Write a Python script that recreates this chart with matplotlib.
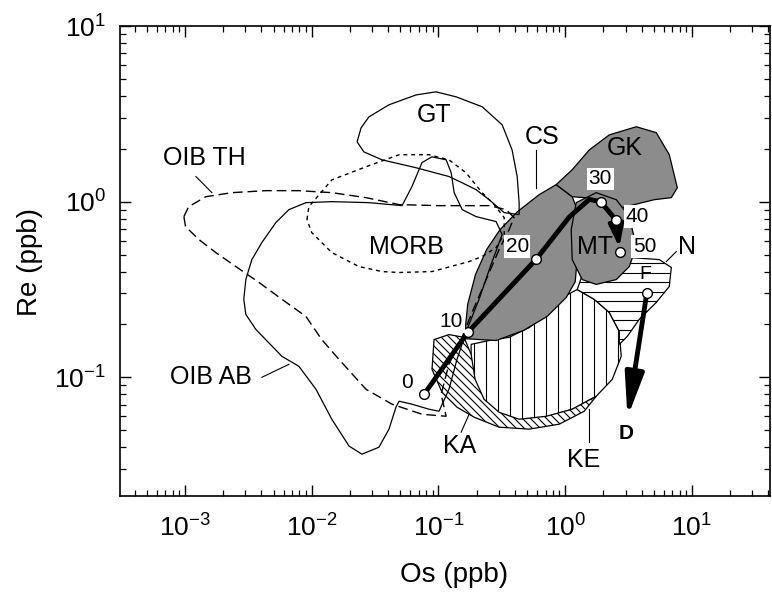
import matplotlib.pyplot as plt
import numpy as np
from matplotlib.patches import Polygon
from matplotlib.collections import LineCollection

plt.rcParams['font.family'] = ['Liberation Sans', 'DejaVu Sans']
plt.rcParams['mathtext.fontset'] = 'custom'
plt.rcParams['mathtext.rm'] = 'Liberation Sans'
plt.rcParams['axes.unicode_minus'] = False

# ---- field outlines (Os ppb, Re ppb) ----
oib_th_os = [0.00098, 0.00107, 0.00146, 0.00234, 0.00435, 0.00792, 0.0144, 0.0268, 0.0489, 0.101,
             0.251, 0.342, 0.395, 0.361, 0.301, 0.238, 0.184, 0.151, 0.121, 0.105, 0.115, 0.0742,
             0.0430, 0.0268, 0.0164, 0.0120, 0.0090, 0.00582, 0.00383, 0.00252, 0.00175, 0.00129, 0.00101]
oib_th_re = [0.822, 0.937, 1.067, 1.125, 1.155, 1.155, 1.125, 1.054, 0.962, 0.949,
             0.949, 0.901, 0.811, 0.693, 0.534, 0.360, 0.234, 0.164, 0.119, 0.080, 0.060, 0.0616,
             0.0703, 0.0855, 0.1265, 0.164, 0.222, 0.278, 0.347, 0.427, 0.513, 0.608, 0.721]

oib_ab_os = [0.00291, 0.00302, 0.00337, 0.00404, 0.00521, 0.00661, 0.0090, 0.0144, 0.0283, 0.0516,
             0.0618, 0.0742, 0.0889, 0.115, 0.126, 0.133, 0.154, 0.198, 0.285, 0.318, 0.260, 0.209,
             0.168, 0.140, 0.121, 0.101, 0.0843, 0.0618, 0.0489, 0.0462, 0.0407, 0.0339, 0.0249,
             0.0197, 0.0144, 0.0108, 0.00792, 0.00582, 0.00362, 0.00302]
oib_ab_re = [0.278, 0.360, 0.468, 0.585, 0.760, 0.901, 0.987, 1.0, 0.987, 0.949,
             1.22, 1.67, 1.80, 1.73, 1.46, 1.125, 0.901, 0.822, 0.770, 0.649, 0.439, 0.278,
             0.1875, 0.1265, 0.0855, 0.0641, 0.0658, 0.0703, 0.0731, 0.0676, 0.0507, 0.0400, 0.0365,
             0.0406, 0.0577, 0.0855, 0.1155, 0.1316, 0.1875, 0.228]

morb_os = [0.00917, 0.0095, 0.0144, 0.0268, 0.0489, 0.0843, 0.121, 0.165, 0.221, 0.275, 0.330,
           0.330, 0.285, 0.221, 0.1745, 0.0889, 0.0489, 0.0359, 0.0236, 0.0144, 0.0100]
morb_re = [0.791, 0.937, 1.33, 1.58, 1.85, 1.85, 1.73, 1.46, 1.125, 0.962, 0.811,
           0.649, 0.548, 0.487, 0.456, 0.400, 0.395, 0.400, 0.427, 0.513, 0.667]

gt_os = [0.0228, 0.0245, 0.0283, 0.0407, 0.0665, 0.0957, 0.138, 0.221, 0.318, 0.381, 0.418,
         0.433, 0.433, 0.330, 0.251, 0.198, 0.154, 0.121, 0.0665, 0.0359, 0.0258]
gt_re = [2.19, 2.63, 3.04, 3.56, 4.05, 4.22, 3.95, 3.47, 2.74, 1.97, 1.39,
         0.987, 0.844, 0.866, 1.026, 1.17, 1.28, 1.39, 1.56, 1.73, 1.92]

cs_os = [0.160, 0.170, 0.196, 0.240, 0.306, 0.420, 0.623, 0.849, 1.136, 1.29, 1.26, 1.20,
         1.02, 0.72, 0.47, 0.285]
cs_re = [0.166, 0.260, 0.385, 0.534, 0.693, 0.877, 1.096, 1.25, 1.067, 0.844, 0.534, 0.350,
         0.285, 0.222, 0.185, 0.162]

gk_os = [0.849, 1.136, 1.548, 2.228, 3.638, 5.234, 6.627, 7.67, 6.876, 5.047, 3.508, 2.438,
         1.856, 1.413, 1.136]
gk_re = [1.25, 1.52, 1.97, 2.40, 2.67, 2.47, 1.85, 1.20, 1.054, 1.026, 0.962, 0.901,
         1.026, 1.054, 1.067]

mt_os = [1.222, 1.757, 2.529, 3.204, 3.638, 3.204, 2.529, 1.757, 1.363, 1.136, 1.115]
mt_re = [0.987, 1.125, 1.026, 0.822, 0.555, 0.427, 0.360, 0.338, 0.360, 0.468, 0.693]

ke_os = [0.191, 0.181, 0.181, 0.251, 0.361, 0.520, 0.748, 0.982, 1.244, 1.694, 2.228, 2.671,
         2.768, 2.351, 1.757, 1.136, 0.708, 0.433, 0.285]
ke_re = [0.0658, 0.0974, 0.154, 0.162, 0.169, 0.192, 0.237, 0.289, 0.316, 0.278, 0.234, 0.1825,
         0.1316, 0.0974, 0.0780, 0.0658, 0.0593, 0.0562, 0.0577]

n_os = [1.244, 1.413, 1.856, 3.204, 5.524, 6.876, 6.627, 5.234, 3.844, 3.090, 2.671, 2.671,
        2.228, 1.694]
n_re = [0.316, 0.411, 0.450, 0.481, 0.468, 0.422, 0.329, 0.267, 0.214, 0.171, 0.154, 0.1825,
        0.234, 0.278]

ka_os = [0.0923, 0.121, 0.159, 0.181, 0.1945, 0.229, 0.301, 0.433, 0.708, 1.136, 1.757, 1.413,
         0.897, 0.520, 0.301, 0.191, 0.140, 0.1067, 0.0889]
ka_re = [0.164, 0.175, 0.169, 0.135, 0.0974, 0.0750, 0.0632, 0.0577, 0.0600, 0.0658, 0.0780, 0.0641,
         0.0541, 0.0507, 0.0520, 0.0593, 0.0676, 0.0822, 0.111]

# ---- melting trend ----
path_os = [0.077, 0.17, 0.59, 1.08, 1.55, 1.9, 2.5]
path_re = [0.080, 0.18, 0.47, 0.82, 1.03, 1.0, 0.79]
step_labels = ['0', '10', '20', '30', '40', '50']
step_os = [0.077, 0.17, 0.59, 1.9, 2.5, 2.7]
step_re = [0.080, 0.18, 0.47, 1.0, 0.79, 0.52]
step_lab_os = [0.0565, 0.126, 0.418, 1.89, 3.70, 4.25]
step_lab_re = [0.0937, 0.208, 0.555, 1.35, 0.822, 0.555]

f_point = (4.4, 0.30)
d_point = (3.1, 0.059)

# ---- field names ----
names = ['GT', 'CS', 'GK', 'OIB TH', 'MORB', 'MT', 'N', 'OIB AB', 'KA', 'KE']
name_os = [0.0923, 0.658, 2.93, 0.00141, 0.056, 1.72, 9.2, 0.0016, 0.146, 1.41]
name_re = [3.12, 2.34, 2.03, 1.78, 0.555, 0.555, 0.555, 0.100, 0.0406, 0.0338]

# leader lines: (os0, re0, os1, re1)
leaders = [(0.00122, 1.39, 0.00163, 1.125),
           (0.00404, 0.100, 0.00661, 0.1186),
           (0.590, 1.97, 0.590, 1.20),
           (0.151, 0.0487, 0.1745, 0.0616),
           (1.548, 0.0428, 1.548, 0.0658),
           (7.53, 0.520, 6.28, 0.456)]

fig = plt.figure(figsize=(7.72, 5.92), dpi=100)
ax = fig.add_axes([120 / 772, 96 / 592, 650 / 772, 470 / 592])
ax.set_xscale('log')
ax.set_yscale('log')

W, H = 650.0, 470.0  # axes size in pixels


def hatch(patch, kind, step, z):
    segs = []
    if kind == '|':
        for x in np.arange(step / 2, W, step):
            segs.append([(x / W, 0), (x / W, 1)])
    elif kind == '-':
        for y in np.arange(step / 2, H, step):
            segs.append([(0, y / H), (1, y / H)])
    else:
        for c in np.arange(0, H + W, step):
            segs.append([(0, c / H), (1, (c - W) / H)])
    lc = LineCollection(segs, colors='k', linewidths=0.8, transform=ax.transAxes, zorder=z)
    lc.set_clip_path(patch)
    ax.add_collection(lc, autolim=False)


# hatched fields
ke = Polygon(np.column_stack([ke_os, ke_re]), closed=True, fc='white', ec='k', lw=0.9, zorder=2)
ax.add_patch(ke)
hatch(ke, '|', 12, 2.1)

n_f = Polygon(np.column_stack([n_os, n_re]), closed=True, fc='white', ec='k', lw=0.9, zorder=2)
ax.add_patch(n_f)
hatch(n_f, '-', 9.5, 2.1)

ka = Polygon(np.column_stack([ka_os, ka_re]), closed=True, fc='white', ec='k', lw=0.9, zorder=2.3)
ax.add_patch(ka)
hatch(ka, '\\', 8, 2.4)

# shaded fields
gray = '#8c8c8c'
for xs, ys in [(cs_os, cs_re), (gk_os, gk_re), (mt_os, mt_re)]:
    ax.add_patch(Polygon(np.column_stack([xs, ys]), closed=True, fc=gray, ec='k', lw=0.9, zorder=3))

# open outlines
ax.add_patch(Polygon(np.column_stack([oib_th_os, oib_th_re]), closed=True, fill=False, ec='k',
                     lw=1.0, ls=(0, (7, 3.5)), zorder=4))
ax.add_patch(Polygon(np.column_stack([morb_os, morb_re]), closed=True, fill=False, ec='k',
                     lw=1.0, ls=(0, (2.8, 2.8)), zorder=4))
ax.add_patch(Polygon(np.column_stack([oib_ab_os, oib_ab_re]), closed=True, fill=False, ec='k',
                     lw=0.9, zorder=4))
ax.add_patch(Polygon(np.column_stack([gt_os, gt_re]), closed=True, fill=False, ec='k',
                     lw=0.9, zorder=4))

for x0, y0, x1, y1 in leaders:
    ax.plot([x0, x1], [y0, y1], color='k', lw=0.8, zorder=4)

# melting path
ax.plot(path_os, path_re, color='k', lw=3.5, solid_capstyle='round', solid_joinstyle='round', zorder=5)
ax.annotate('', xy=(step_os[5], step_re[5]), xytext=(step_os[4], step_re[4]),
            arrowprops=dict(arrowstyle='-|>,head_length=0.9,head_width=0.3', lw=3.0, color='k',
                            shrinkA=0, shrinkB=3, mutation_scale=15), zorder=5)
ax.annotate('', xy=d_point, xytext=f_point,
            arrowprops=dict(arrowstyle='-|>,head_length=1.3,head_width=0.28', lw=3.5, color='k',
                            shrinkA=0, shrinkB=0, mutation_scale=20), zorder=5)

ax.plot(step_os, step_re, 'o', ms=7, mfc='white', mec='k', mew=1.0, zorder=6)
ax.plot([f_point[0]], [f_point[1]], 'o', ms=7, mfc='white', mec='k', mew=1.0, zorder=6)

for lab, x, y in zip(step_labels, step_lab_os, step_lab_re):
    ax.text(x, y, lab, fontsize=15, ha='center', va='center', zorder=7,
            bbox=dict(boxstyle='square,pad=0.08', fc='white', ec='none'))

ax.text(4.28, 0.385, 'F', fontsize=14, ha='center', va='center', zorder=7)
ax.text(3.05, 0.048, 'D', fontsize=15, fontweight='bold', ha='center', va='center', zorder=7)

for lab, x, y in zip(names, name_os, name_re):
    ax.text(x, y, lab, fontsize=18, ha='center', va='center', zorder=7)

# axes styling
ax.set_xlim(3.07e-4, 41.3)
ax.set_ylim(0.0211, 10)
ax.tick_params(which='both', direction='in', top=True, right=True, labelsize=19)
ax.tick_params(which='major', length=8, width=1.0)
ax.tick_params(which='minor', length=4.5, width=0.9)
ax.tick_params(axis='x', which='major', pad=13)
ax.tick_params(axis='y', which='major', pad=10)
ax.yaxis.set_minor_formatter(plt.NullFormatter())
ax.xaxis.set_minor_formatter(plt.NullFormatter())
for sp in ax.spines.values():
    sp.set_linewidth(1.2)

fig.text(454 / 772, 1 - 575 / 592, 'Os (ppb)', fontsize=20, ha='center', va='center')
fig.text(30 / 772, 1 - 262 / 592, 'Re (ppb)', fontsize=20, ha='center', va='center', rotation=90)

fig.savefig('out.png', dpi=100)
